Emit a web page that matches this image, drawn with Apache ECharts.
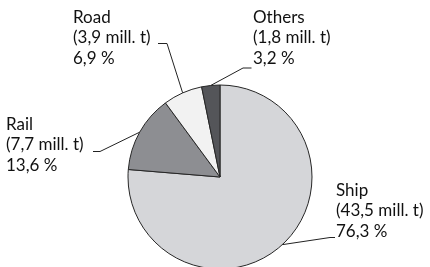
<!DOCTYPE html>
<html>
<head>
<meta charset="utf-8">
<script src="https://cdn.jsdelivr.net/npm/echarts@6/dist/echarts.min.js"></script>
<style>html,body{margin:0;padding:0;background:#fff}#c{width:430px;height:267px}</style>
</head>
<body>
<div id="c"></div>
<script>
var categories = ['Ship', 'Rail', 'Road', 'Others'];
var tonnes = [43.5, 7.7, 3.9, 1.8];
var shares = [76.3, 13.6, 6.9, 3.2];
var colors = ['#d5d6d9', '#8d8e92', '#f2f2f2', '#545559'];

function fmt(v) { return v.toFixed(1).replace('.', ','); }

// label anchor boxes (top-left) and guide-line bends
var labelPos = {
  Ship:   { x: 336, y: 180, mid: [330, 237.5], end: [335, 237.5] },
  Rail:   { x: 6,   y: 114, mid: [100, 151.5], end: [93, 151.5] },
  Road:   { x: 73,  y: 7,   mid: [167, 43.5],  end: [158, 43.5] },
  Others: { x: 253, y: 7,   mid: [243, 68],    end: [251.5, 68] }
};

var chart = echarts.init(document.getElementById('c'), null, { renderer: 'canvas' });
chart.setOption({
  animation: false,
  series: [{
    type: 'pie',
    center: [220, 177],
    radius: 92,
    startAngle: 90,
    clockwise: true,
    avoidLabelOverlap: false,
    data: categories.map(function (c, i) {
      return { name: c, value: shares[i], itemStyle: { color: colors[i] } };
    }),
    itemStyle: { borderColor: '#262626', borderWidth: 1 },
    label: {
      show: true,
      position: 'outside',
      fontFamily: 'Lato',
      fontSize: 17,
      lineHeight: 20.5,
      color: '#111',
      formatter: function (p) {
        var i = p.dataIndex;
        return categories[i] + '\n(' + fmt(tonnes[i]) + ' mill. t)\n' + fmt(shares[i]) + ' %';
      }
    },
    labelLine: { show: true, length: 10, length2: 10, lineStyle: { color: '#222', width: 1 } },
    labelLayout: function (params) {
      var name = categories[params.dataIndex];
      var lp = labelPos[name];
      var start = params.labelLinePoints ? params.labelLinePoints[0] : lp.mid;
      return {
        x: lp.x,
        y: lp.y,
        align: 'left',
        verticalAlign: 'top',
        labelLinePoints: [start, lp.mid, lp.end]
      };
    }
  }]
});
</script>
</body>
</html>
